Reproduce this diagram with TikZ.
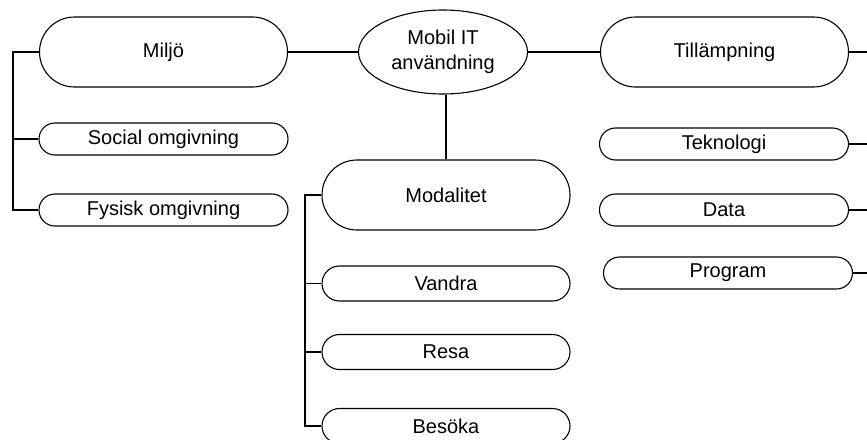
\documentclass[tikz,border=0pt]{standalone}
\usepackage{fontspec}
\setmainfont{Liberation Sans}
\usetikzlibrary{shapes.geometric}
\begin{document}
\begin{tikzpicture}[x=0.5pt,y=-0.5pt,
  line width=0.55pt,
  every node/.style={font=\fontsize{10}{12.5}\selectfont},
  bigbox/.style={draw, rounded corners=17.5pt, minimum width=124pt, minimum height=35pt, inner sep=0pt},
  smallbox/.style={draw, rounded corners=8pt, minimum width=124.5pt, minimum height=16pt, inner sep=0pt},
  midbox/.style={draw, rounded corners=8.75pt, minimum width=124pt, minimum height=17.5pt, inner sep=0pt},
  hub/.style={draw, ellipse, minimum width=84.5pt, minimum height=42pt, inner sep=0pt, align=center},
  link/.style={draw}]
\useasboundingbox (0,0) rectangle (867,439);
\clip (0,0) rectangle (867,439);

% central hub
\node[hub] (hub) at (443,52) {Mobil IT\\användning};

% left branch
\node[bigbox] (miljo) at (163.5,52) {Miljö};
\node[smallbox] (social) at (163.5,139) {Social omgivning};
\node[smallbox] (fysisk) at (163.5,210) {Fysisk omgivning};

% right branch
\node[bigbox] (till) at (724.5,52) {Tillämpning};
\node[smallbox] (tekn) at (724,144) {Teknologi};
\node[smallbox] (data) at (724,210) {Data};
\node[smallbox] (prog) at (728,273) {Program};

% lower branch
\node[bigbox] (moda) at (446,195) {Modalitet};
\node[midbox] (vandra) at (446,283.5) {Vandra};
\node[midbox] (resa) at (446,352) {Resa};
\node[midbox] (besoka) at (446,426) {Besöka};

% bracket rails
\coordinate (lrail) at (13,52);
\coordinate (rrail) at (885,52);
\coordinate (mrail) at (305,195);

% hub connectors
\draw[link] (miljo.east) -- (hub.west);
\draw[link] (hub.east) -- (till.west);
\draw[link] (moda.north) -- (moda.north |- hub.south);

% left bracket
\draw[link] (miljo.west) -- (miljo.west -| lrail) -- (fysisk.west -| lrail) -- (fysisk.west);
\draw[link] (social.west) -- (social.west -| lrail);

% right bracket
\draw[link] (till.east) -- (till.east -| rrail) -- (prog.east -| rrail) -- (prog.east);
\draw[link] (tekn.east) -- (tekn.east -| rrail);
\draw[link] (data.east) -- (data.east -| rrail);

% lower bracket
\draw[link] (moda.west) -- (moda.west -| mrail) -- (besoka.west -| mrail) -- (besoka.west);
\draw[link] (vandra.west) -- (vandra.west -| mrail);
\draw[link] (resa.west) -- (resa.west -| mrail);
\end{tikzpicture}
\end{document}
